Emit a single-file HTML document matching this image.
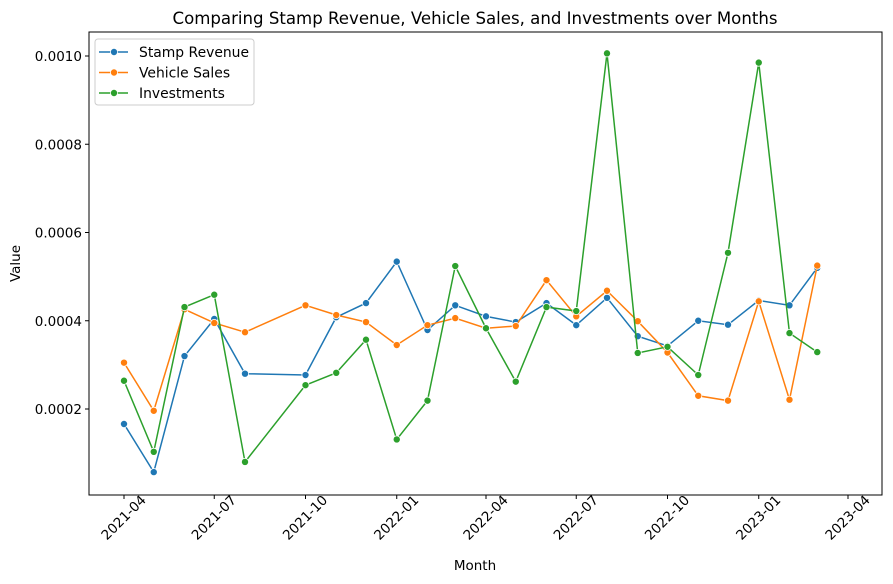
<!DOCTYPE html>
<html><head><meta charset="utf-8"><style>
body{margin:0;background:#fff;}
svg{font-family:"DejaVu Sans","Liberation Sans",sans-serif;display:block}
</style></head><body>
<svg id="c" width="893" height="584"></svg>
<script>
const months=["2021-04","2021-05","2021-06","2021-07","2021-08","2021-10","2021-11","2021-12","2022-01","2022-02","2022-03","2022-04","2022-05","2022-06","2022-07","2022-08","2022-09","2022-10","2022-11","2022-12","2023-01","2023-02","2023-03"];
const stamp=[1.66,0.57,3.20,4.04,2.80,2.77,4.08,4.40,5.34,3.79,4.35,4.10,3.97,4.40,3.90,4.52,3.65,3.43,4.00,3.91,4.46,4.35,5.20];
const vehicle=[3.05,1.96,4.26,3.95,3.74,4.35,4.13,3.97,3.45,3.90,4.06,3.83,3.88,4.92,4.10,4.68,3.99,3.28,2.30,2.19,4.44,2.21,5.25];
const invest=[2.64,1.03,4.31,4.59,0.80,2.54,2.82,3.57,1.31,2.19,5.24,3.83,2.62,4.31,4.22,10.06,3.27,3.41,2.77,5.54,9.85,3.72,3.29];
const xTicks=["2021-04","2021-07","2021-10","2022-01","2022-04","2022-07","2022-10","2023-01","2023-04"];
const yTicks=[2,4,6,8,10];
const yLabels=["0.0002","0.0004","0.0006","0.0008","0.0010"];
const NS="http://www.w3.org/2000/svg";
const svg=document.getElementById('c');
const L=89,R=882,T=32,B=495;
const d0=Date.UTC(2021,3,1);
function days(s){const [y,m]=s.split('-').map(Number);return (Date.UTC(y,m-1,1)-d0)/864e5;}
function xs(s){return 124+days(s)*(724/730);}
function ys(v){return 497.25-v*44.125;}
function mk(t,a,p){const e=document.createElementNS(NS,t);for(const k in a)e.setAttribute(k,a[k]);(p||svg).appendChild(e);return e;}
let e;
e=mk('rect',{x:L,y:T,width:R-L,height:B-T,fill:'none',stroke:'#000','stroke-width':1});


e=mk('text',{x:475,y:24,'text-anchor':'middle','font-size':16.6});
e.textContent='Comparing Stamp Revenue, Vehicle Sales, and Investments over Months';


yTicks.forEach((v,i)=>{const y=ys(v);
 mk('line',{x1:L-4,x2:L,y1:y,y2:y,stroke:'#000'});
 e=mk('text',{x:L-7,y:y+5,'text-anchor':'end','font-size':13.5});e.textContent=yLabels[i];
 
 });
xTicks.forEach(s=>{const x=xs(s);
 mk('line',{x1:x,x2:x,y1:B,y2:B+4,stroke:'#000'});
 e=mk('text',{x:x,y:B+23,'text-anchor':'middle','font-size':13.5,'dominant-baseline':'central',transform:`rotate(-45 ${x} ${B+23})`});e.textContent=s;
 
 });
e=mk('text',{x:475,y:570,'text-anchor':'middle','font-size':13.5});e.textContent='Month';


e=mk('text',{x:20,y:(T+B)/2,'text-anchor':'middle','font-size':13.5,transform:`rotate(-90 20 ${(T+B)/2})`});e.textContent='Value';


const series=[["Stamp Revenue",stamp,"#1f77b4"],["Vehicle Sales",vehicle,"#ff7f0e"],["Investments",invest,"#2ca02c"]];
series.forEach(([n,vals,c])=>{
 const g=mk('g',{});
 
 
 mk('polyline',{points:vals.map((v,i)=>xs(months[i])+','+ys(v)).join(' '),fill:'none',stroke:c,'stroke-width':1.5},g);
 vals.forEach((v,i)=>{const p=mk('circle',{cx:xs(months[i]),cy:ys(v),r:3.6,fill:c,stroke:'#fff','stroke-width':0.8},g);
  
  });
});
const lg=mk('g',{});


mk('rect',{x:95,y:39,width:159,height:66,rx:3,fill:'#fff',stroke:'#ccc'},lg);
series.forEach(([n,v,c],i)=>{const y=52+i*20.5;
 mk('line',{x1:99,x2:128,y1:y,y2:y,stroke:c,'stroke-width':1.5},lg);
 mk('circle',{cx:114,cy:y,r:3.6,fill:c,stroke:'#fff','stroke-width':0.8},lg);
 const t=mk('text',{x:139,y:y+5,'font-size':13.9},lg);t.textContent=n;
 
 });
</script>
</body></html>
